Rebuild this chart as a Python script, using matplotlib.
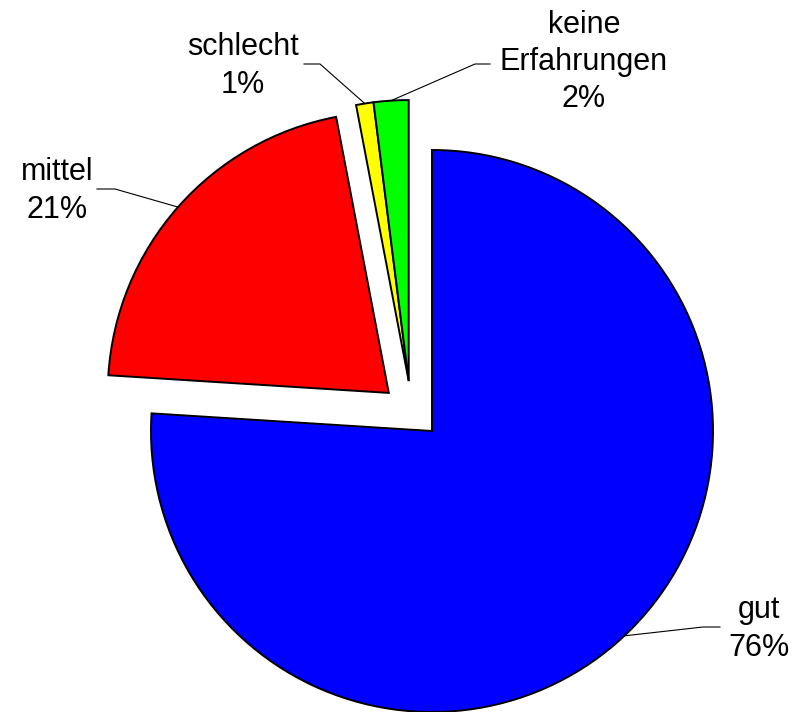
import numpy as np
import matplotlib.pyplot as plt

labels = ['gut', 'mittel', 'schlecht', 'keine\nErfahrungen']
values = [76, 21, 1, 2]
colors = ['#0000FF', '#FF0000', '#FFFF00', '#00FF00']
explode = [0.0, 0.205, 0.196, 0.196]

plt.rcParams['font.family'] = ['Liberation Sans', 'DejaVu Sans']

# pixel layout of the reference: pie centre and radius
cx, cy, rad = 432, 431, 281
W, H = 797, 712


def px(x, y):
    # pixel position (from top-left) -> data coords
    return (x - cx) / rad, (cy - y) / rad


fig = plt.figure(figsize=(W / 100, H / 100), dpi=100)
ax = fig.add_axes([0, 0, 1, 1])
wedges, _ = ax.pie(values, colors=colors, explode=explode, startangle=90,
                   counterclock=False,
                   wedgeprops=dict(edgecolor='black', linewidth=1.4))

# the two small slices are pulled out together
ang = np.deg2rad(115)
for w in wedges[2:]:
    w.set_center((0.196 * np.cos(ang), 0.196 * np.sin(ang)))

# label text positions (centres) and leader starts / elbows, in pixels
text_pos = [(759, 629), (57, 191), (243, 66), (584, 62)]
lead_start = [(720, 627), (97, 189), (304, 64), (490, 64)]
lead_elbow = [(703, 627), (115, 189), (320, 64), (475, 64)]

for i, w in enumerate(wedges):
    pct = '%d%%' % values[i]
    tx, ty = px(*text_pos[i])
    ax.text(tx, ty, labels[i] + '\n' + pct, ha='center', va='center',
            multialignment='center', fontsize=22, linespacing=1.32)
    mid = np.deg2rad(0.5 * (w.theta1 + w.theta2))
    ex = w.center[0] + w.r * np.cos(mid)
    ey = w.center[1] + w.r * np.sin(mid)
    sx, sy = px(*lead_start[i])
    bx, by = px(*lead_elbow[i])
    ax.plot([sx, bx, ex], [sy, by, ey], color='black', lw=0.8)

ax.set_xlim(-cx / rad, (W - cx) / rad)
ax.set_ylim((cy - H) / rad, cy / rad)
ax.set_aspect('auto')
ax.axis('off')

plt.savefig('out.png', dpi=100)
